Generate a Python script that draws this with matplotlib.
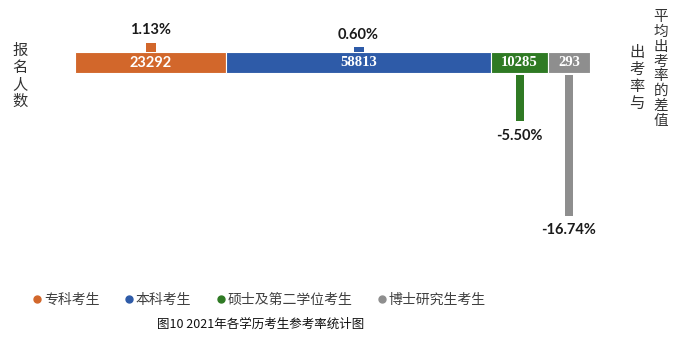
import matplotlib
matplotlib.use("Agg")
import matplotlib.pyplot as plt
from matplotlib.lines import Line2D

plt.rcParams['font.family'] = ['Noto Sans CJK SC', 'DejaVu Sans']

# ---- data ----
categories = ["专科考生", "本科考生", "硕士及第二学位考生", "博士研究生考生"]
applicants = [23292, 58813, 10285, 293]
rate_diff = [1.13, 0.60, -5.50, -16.74]   # % difference from average attendance rate
colors = ["#D2672B", "#2E5BA8", "#2F7A24", "#8E8E8E"]
caption = "图10 2021年各学历考生参考率统计图"
left_label = "报名人数"
right_label_a = "出考率与"
right_label_b = "平均出考率的差值"

# ---- layout (display spans of the segments, not proportional in the original) ----
seg_span = [151, 265, 57, 42]
bar_h = 2.5
gap = 0.25

fig = plt.figure(figsize=(6.83, 3.58), dpi=100)
W, H = 683, 358
x0, x1 = 75, 590
y_top, y_bot = 20, 240
ax = fig.add_axes([x0 / W, 1 - y_bot / H, (x1 - x0) / W, (y_bot - y_top) / H])
ax.set_xlim(0, sum(seg_span))
ax.set_ylim(-19.88, 6.31)
ax.axis('off')

sans_b = ['Lato', 'DejaVu Sans']
serif_b = ['Liberation Serif', 'DejaVu Serif']

left = 0
for i, (n, d, c, s) in enumerate(zip(applicants, rate_diff, colors, seg_span)):
    ax.bar(left, bar_h, width=s, bottom=0, align='edge', color=c,
           edgecolor='white', linewidth=0.8)
    fam = sans_b if i == 0 else serif_b
    ax.text(left + s / 2, bar_h / 2, f"{n}", color='white', fontsize=10.5,
            fontweight='bold', ha='center', va='center', family=fam)
    cx = left + s / 2
    if d >= 0:
        ax.bar(cx, d, width=10, bottom=bar_h, color=c)
        ax.text(cx, bar_h + d + 0.6, f"{d:.2f}%", fontsize=10.5, fontweight='bold',
                ha='center', va='bottom', color='#1a1a1a', family=sans_b)
    else:
        ax.bar(cx, d, width=8, bottom=-gap, color=c)
        ax.text(cx, -gap + d - 0.9, f"{d:.2f}%", fontsize=10.5, fontweight='bold',
                ha='center', va='top', color='#1a1a1a', family=sans_b)
    left += s

# vertical side labels
fig.text(20 / W, 1 - 76 / H, "\n".join(left_label), fontsize=11, ha='center', va='center',
         color='#333333', linespacing=1.0)
fig.text(637 / W, 1 - 78 / H, "\n".join(right_label_a), fontsize=11, ha='center', va='center',
         color='#333333', linespacing=1.0)
fig.text(661 / W, 1 - 69 / H, "\n".join(right_label_b), fontsize=10.5, ha='center', va='center',
         color='#333333', linespacing=1.08)

# legend
handles = [Line2D([], [], marker='o', linestyle='none', markersize=5,
                  markerfacecolor=c, markeredgecolor=c) for c in colors]
fig.legend(handles, categories, loc='center', bbox_to_anchor=(258 / W, 1 - 300 / H),
           ncol=4, frameon=False, fontsize=10, handletextpad=0.0, columnspacing=1.6,
           handlelength=1.0, labelcolor='#404040')

fig.text(261 / W, 1 - 324 / H, caption, fontsize=9, ha='center', va='center', color='#111111')

fig.savefig("out.png", dpi=100)
